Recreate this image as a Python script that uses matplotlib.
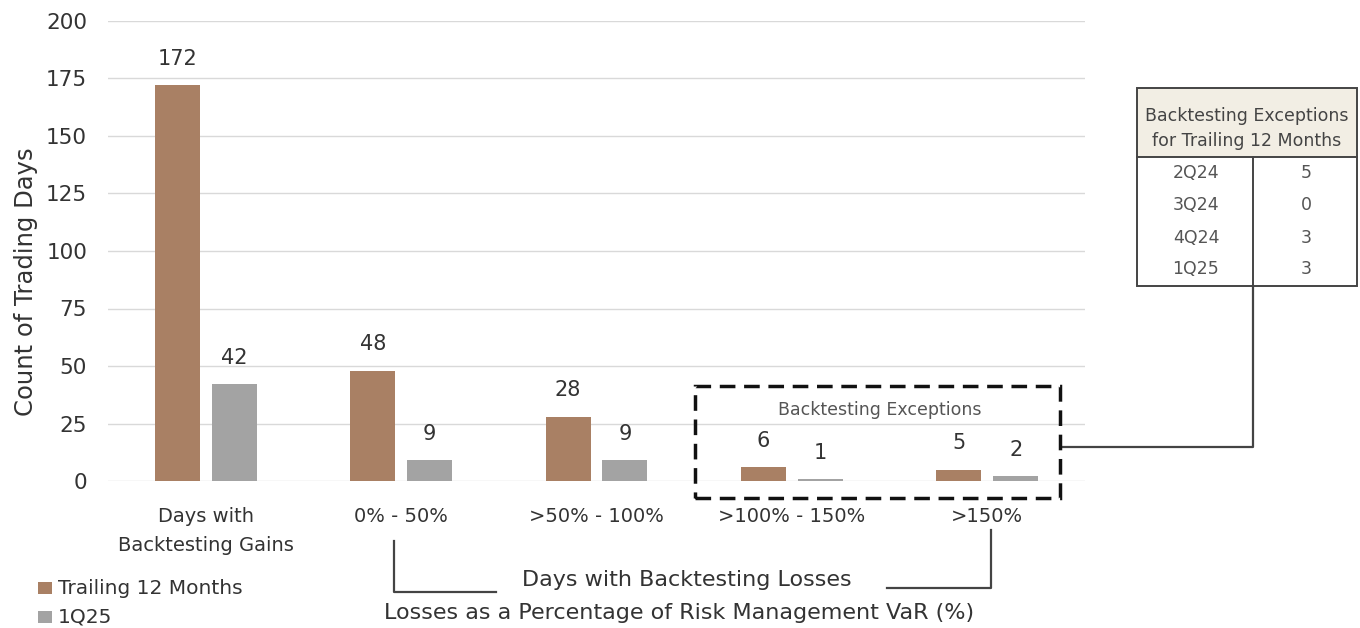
import matplotlib
matplotlib.use("Agg")
import matplotlib.pyplot as plt
import numpy as np
from matplotlib.patches import Rectangle
from matplotlib.lines import Line2D

categories = ["Days with\nBacktesting Gains", "0% - 50%", ">50% - 100%", ">100% - 150%", ">150%"]
trailing_12m = [172, 48, 28, 6, 5]
q1_25 = [42, 9, 9, 1, 2]
series_names = ["Trailing 12 Months", "1Q25"]
yticks = [0, 25, 50, 75, 100, 125, 150, 175, 200]
table_quarters = ["2Q24", "3Q24", "4Q24", "1Q25"]
table_exceptions = [5, 0, 3, 3]

BROWN = "#A98064"
GRAY = "#A3A3A3"
TXT = "#333333"
plt.rcParams['font.family'] = ['DejaVu Sans']

W, H = 1360, 628
fig = plt.figure(figsize=(W / 100, H / 100), dpi=100)

def px(x, y):
    return x / W, 1 - y / H

ax_l, ax_r, ax_t, ax_b = 108, 1085, 21, 481
ax = fig.add_axes([ax_l / W, 1 - ax_b / H, (ax_r - ax_l) / W, (ax_b - ax_t) / H])

x = np.arange(len(categories))
w = 0.23
off = 0.145
b1 = ax.bar(x - off, trailing_12m, w, color=BROWN, label=series_names[0], zorder=3)
b2 = ax.bar(x + off, q1_25, w, color=GRAY, label=series_names[1], zorder=3)
for bars, vals in [(b1, trailing_12m), (b2, q1_25)]:
    for rect, v in zip(bars, vals):
        ax.text(rect.get_x() + rect.get_width() / 2, v + 7, str(v), ha="center", va="bottom",
                fontsize=15, color=TXT)

ax.set_xlim(-0.5, len(categories) - 0.5)
ax.set_ylim(0, 200)
ax.set_yticks(yticks)
ax.set_yticklabels([str(t) for t in yticks], fontsize=15.5, color=TXT)
ax.set_xticks(x)
ax.set_xticklabels(categories, fontsize=14, color=TXT, linespacing=1.65)
ax.tick_params(axis="both", length=0)
ax.tick_params(axis="y", pad=15)
ax.tick_params(axis="x", pad=19)
ax.grid(axis="y", color="#D9D9D9", linewidth=1, zorder=0)
for s in ax.spines.values():
    s.set_visible(False)
ax.set_ylabel("Count of Trading Days", fontsize=17.5, color=TXT)
ax.yaxis.set_label_coords((38 - ax_l) / (ax_r - ax_l), (ax_b - 282) / (ax_b - ax_t))

# dashed box
x0, y0 = px(695, 498)
x1, y1 = px(1060, 386)
fig.patches.append(Rectangle((x0, y0), x1 - x0, y1 - y0, transform=fig.transFigure,
                             fill=False, edgecolor="#111111", linestyle=(0, (4.5, 2.5)),
                             linewidth=2.5, zorder=5))
fig.text(*px(880, 410), "Backtesting Exceptions", ha="center", va="center", fontsize=12.5, color="#555555")

# connector line
fig.lines.append(Line2D([1062 / W, 1253 / W, 1253 / W], [1 - 447 / H, 1 - 447 / H, 1 - 286 / H],
                        transform=fig.transFigure, color="#444444", linewidth=1.6))

# table
tl, tr, tt, tb = 1137, 1357, 88, 286
hdr_b = 157
fig.patches.append(Rectangle(px(tl, hdr_b), (tr - tl) / W, (hdr_b - tt) / H, transform=fig.transFigure,
                             facecolor="#F2EEE4", edgecolor="none", zorder=1))
fig.patches.append(Rectangle(px(tl, tb), (tr - tl) / W, (tb - tt) / H, transform=fig.transFigure,
                             fill=False, edgecolor="#444444", linewidth=1.4, zorder=2))
fig.lines.append(Line2D([tl / W, tr / W], [1 - hdr_b / H] * 2, transform=fig.transFigure,
                        color="#444444", linewidth=1.4))
fig.lines.append(Line2D([1253 / W] * 2, [1 - hdr_b / H, 1 - tb / H], transform=fig.transFigure,
                        color="#444444", linewidth=1.4))
fig.text(*px(1247, 116), "Backtesting Exceptions", ha="center", va="center", fontsize=12.5, color="#444444")
fig.text(*px(1247, 141), "for Trailing 12 Months", ha="center", va="center", fontsize=12.5, color="#444444")
row_y = [173, 205, 238, 269]
for q, v, ry in zip(table_quarters, table_exceptions, row_y):
    fig.text(*px(1196, ry), q, ha="center", va="center", fontsize=12.5, color="#555555")
    fig.text(*px(1306, ry), str(v), ha="center", va="center", fontsize=12.5, color="#555555")

# brackets
for pts in [[(394, 541), (394, 592), (496, 592)], [(887, 588), (991, 588), (991, 530)]]:
    xs = [p[0] / W for p in pts]
    ys = [1 - p[1] / H for p in pts]
    fig.lines.append(Line2D(xs, ys, transform=fig.transFigure, color="#444444", linewidth=1.6))
fig.text(*px(687, 580), "Days with Backtesting Losses", ha="center", va="center", fontsize=16, color=TXT)
fig.text(*px(679, 613), "Losses as a Percentage of Risk Management VaR (%)", ha="center", va="center",
         fontsize=16, color=TXT)

# legend
for (ly, col, name) in [(588, BROWN, series_names[0]), (617, GRAY, series_names[1])]:
    fig.patches.append(Rectangle(px(38, ly + 6), 14 / W, 12 / H, transform=fig.transFigure,
                                 facecolor=col, edgecolor="none"))
    fig.text(*px(58, ly), name, ha="left", va="center", fontsize=14.5, color=TXT)

fig.savefig("out.png", dpi=100)
